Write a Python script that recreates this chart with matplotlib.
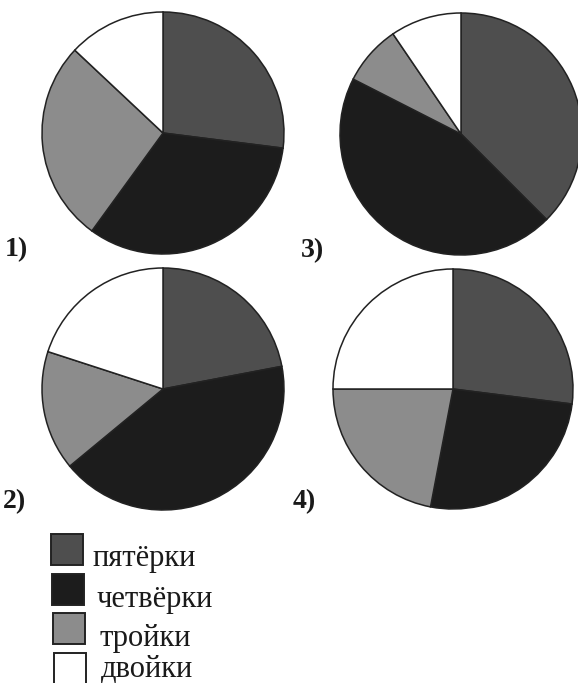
import matplotlib
matplotlib.use("Agg")
import matplotlib.pyplot as plt
from matplotlib.patches import Rectangle

categories = ["пятёрки", "четвёрки", "тройки", "двойки"]
colors = ["#4e4e4e", "#1c1c1c", "#8c8c8c", "#ffffff"]

pie_labels = ["1)", "2)", "3)", "4)"]
values_1 = [27, 33, 27, 13]
values_2 = [22, 42, 16, 20]
values_3 = [37.5, 45, 8, 9.5]
values_4 = [27, 26, 22, 25]

W, H = 578, 683
fig = plt.figure(figsize=(W / 100, H / 100), dpi=100)
ax = fig.add_axes([0, 0, 1, 1])

# pixel-layout: (center x, center y from top, radius, label x, label baseline y)
layout = [
    (163, 133, 121, 5, 256),
    (163, 389, 121, 3, 508),
    (461, 134, 121, 301, 257),
    (453, 389, 120, 293, 508),
]
all_values = [values_1, values_2, values_3, values_4]

for vals, lab, (cx, cy, r, lx, ly) in zip(all_values, pie_labels, layout):
    ax.pie(vals, colors=colors, center=(cx, H - cy), radius=r,
           startangle=90, counterclock=False,
           wedgeprops=dict(edgecolor="#222222", linewidth=1.1))
    ax.text(lx, H - ly, lab, fontsize=20, fontweight="bold",
            family="Liberation Serif", ha="left", va="baseline", color="#1a1a1a")

# legend layout: (square left, square top, text x, text baseline)
legend_layout = [
    (51, 534, 92, 566),
    (52, 574, 96, 607),
    (53, 613, 99, 646),
    (54, 653, 101, 677),
]
for (name, col), (sx, st, tx, tb) in zip(zip(categories, colors), legend_layout):
    ax.add_patch(Rectangle((sx, H - st - 31), 32, 31, facecolor=col,
                           edgecolor="#222222", linewidth=1.4))
    ax.text(tx, H - tb, name, fontsize=22, family="Liberation Serif",
            ha="left", va="baseline", color="#1a1a1a")

ax.set_xlim(0, W)
ax.set_ylim(0, H)
ax.set_aspect("equal")
ax.axis("off")
fig.savefig("out.png", dpi=100, facecolor="white")
